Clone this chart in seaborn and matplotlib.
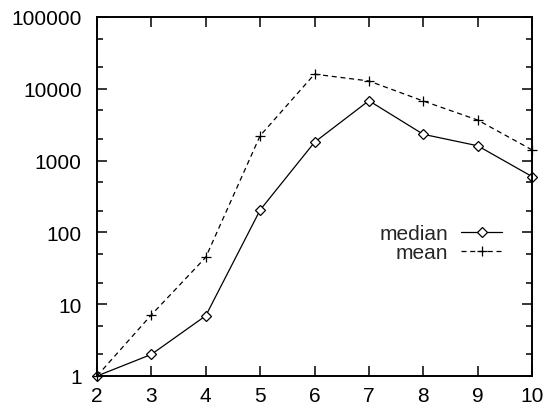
import pandas as pd
import matplotlib
matplotlib.use("Agg")
import matplotlib.pyplot as plt
import seaborn as sns
from matplotlib.ticker import LogLocator, FixedLocator, FuncFormatter, NullFormatter

# data
x_vals = [2, 3, 4, 5, 6, 7, 8, 9, 10]
median_vals = [1, 2, 6.9, 205, 1800, 6830, 2325, 1610, 600]
mean_vals = [1, 7.1, 45, 2220, 16000, 12850, 6760, 3675, 1410]
y_ticks = [1, 10, 100, 1000, 10000, 100000]

df = pd.concat([
    pd.DataFrame({"x": x_vals, "y": median_vals, "series": "median"}),
    pd.DataFrame({"x": x_vals, "y": mean_vals, "series": "mean"}),
])

sns.set_style("ticks")
plt.rcParams["font.family"] = ["Liberation Sans", "DejaVu Sans"]

fig = plt.figure(figsize=(5.45, 4.1), dpi=100)
ax = fig.add_axes([97 / 545, 33 / 410, 435 / 545, 359 / 410])

sns.lineplot(data=df, x="x", y="y", hue="series", style="series",
             palette={"median": "black", "mean": "black"},
             markers={"median": "D", "mean": "P"},
             dashes={"median": "", "mean": (4, 3)},
             ax=ax, legend=False, linewidth=0.9)

# gnuplot-like open diamond / plus markers
lines = ax.get_lines()
lines[0].set_marker("D")
lines[0].set_markersize(5.5)
lines[0].set_markerfacecolor("white")
lines[1].set_marker("+")
lines[1].set_markersize(7.5)
for ln in lines:
    ln.set_markeredgecolor("black")
    ln.set_markeredgewidth(0.9)
    ln.set_clip_on(False)

ax.set_yscale("log")
ax.set_xlim(2, 10)
ax.set_ylim(1, 100000)
ax.xaxis.set_major_locator(FixedLocator(x_vals))
ax.yaxis.set_major_locator(FixedLocator(y_ticks))
ax.yaxis.set_major_formatter(FuncFormatter(lambda v, p: f"{int(round(v))}"))
ax.yaxis.set_minor_locator(LogLocator(base=10, subs=(2, 5)))
ax.yaxis.set_minor_formatter(NullFormatter())

ax.tick_params(which="both", direction="in", top=True, right=True,
               labelsize=15, colors="black", width=1.1)
ax.tick_params(which="major", length=7)
ax.tick_params(which="minor", length=4)
ax.tick_params(axis="x", pad=7)
ax.tick_params(axis="y", pad=11)
for s in ax.spines.values():
    s.set_linewidth(1.4)
    s.set_color("black")
ax.set_xlabel("")
ax.set_ylabel("")

leg = ax.legend(handles=lines, labels=["median", "mean"], loc="center right",
                bbox_to_anchor=(0.956, 0.37), frameon=False, markerfirst=False,
                fontsize=15, handlelength=2.0, borderpad=0, labelspacing=0.0,
                handletextpad=0.6)

fig.savefig("out.png", dpi=100)
